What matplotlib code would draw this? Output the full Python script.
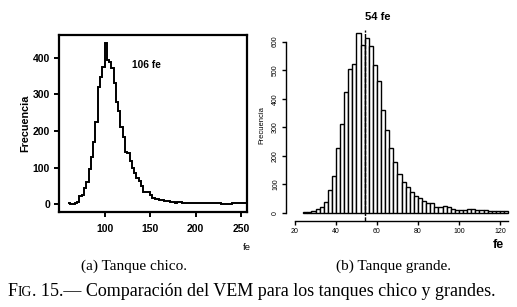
import numpy as np
import matplotlib
matplotlib.use('Agg')
import matplotlib.pyplot as plt

# data
# (a) small tank: step curve, bin width 2.5 fe starting at 60
a_start = 60.0
a_width = 2.5
a_counts = [2, 1, 1, 2, 6, 23, 25, 43, 61, 95,
            130, 171, 224, 320, 349, 376, 440, 395, 388, 372,
            331, 280, 255, 212, 184, 143, 139, 118, 100, 84,
            72, 62, 48, 34, 32, 34, 25, 16, 13, 14,
            11, 10, 9, 9, 8, 6, 5, 4, 6, 5,
            3, 3, 2, 3, 2, 2, 2, 2, 2, 2,
            2, 2, 2, 2, 2, 2, 2, 0, 0, 0,
            0, 1, 3, 4, 3, 2, 2, 2, 2]
a_label = 106

# (b) big tank: histogram, bin width 2 fe starting at 24
b_start = 24
b_width = 2
b_counts = [2, 2, 5, 14, 21, 37, 80, 129, 228, 311,
            425, 503, 523, 629, 588, 612, 586, 518, 462, 359,
            290, 226, 177, 136, 109, 91, 74, 60, 53, 42,
            35, 35, 19, 19, 23, 19, 13, 9, 8, 8,
            12, 12, 8, 9, 11, 7, 5, 7, 7, 7]
b_label = 54

W, H = 517, 307
fig = plt.figure(figsize=(W / 100, H / 100), dpi=100)
sans = 'Liberation Sans'
serif = 'Liberation Serif'


def box(x0, y0, x1, y1):
    return [x0 / W, 1 - y1 / H, (x1 - x0) / W, (y1 - y0) / H]


# ---- left panel
ax1 = fig.add_axes(box(59, 34.7, 247.3, 212.3))
edges_a = a_start + a_width * np.arange(len(a_counts) + 1)
ax1.stairs(a_counts, edges_a, baseline=None, color='black', lw=1.4)
ax1.set_xlim(50, 256.9)
ax1.set_ylim(-22.7, 463.8)
ax1.set_xticks([100, 150, 200, 250])
ax1.set_yticks([0, 100, 200, 300, 400])
for s in ax1.spines.values():
    s.set_linewidth(1.6)
ax1.tick_params(direction='out', length=3.5, width=1.4, pad=3)
ax1.tick_params(axis='x', pad=5)
for lab in ax1.get_xticklabels() + ax1.get_yticklabels():
    lab.set_fontfamily(sans)
    lab.set_fontweight('bold')
    lab.set_fontsize(7.5)
ax1.set_ylabel('Frecuencia', fontfamily=sans, fontweight='bold', fontsize=7.8, labelpad=2)
ax1.text(132 / W, 1 - 65 / H, f'{a_label} fe', transform=fig.transFigure,
         fontfamily=sans, fontweight='bold', fontsize=7.3, va='center', ha='left')
fig.text(247 / W, 1 - 247 / H, 'fe', fontfamily=sans, fontsize=6.8, ha='center', va='center')

# ---- right panel
ax2 = fig.add_axes(box(286, 30, 512, 221))
edges_b = b_start + b_width * np.arange(len(b_counts))
ax2.bar(edges_b, b_counts, width=b_width, align='edge', color='white',
        edgecolor='black', lw=1.0)
ax2.axvline(b_label, color='black', lw=1.0, ls=(0, (3, 1)))
ax2.set_xlim(15.6, 125.9)
ax2.set_ylim(-29.1, 641)
ax2.spines['top'].set_visible(False)
ax2.spines['right'].set_visible(False)
ax2.spines['bottom'].set_bounds(20, 124)
ax2.spines['left'].set_bounds(0, 600)
for s in ['left', 'bottom']:
    ax2.spines[s].set_linewidth(1.0)
ax2.set_xticks([20, 40, 60, 80, 100, 120])
ax2.set_yticks([0, 100, 200, 300, 400, 500, 600])
ax2.tick_params(direction='out', length=3, width=1.0, labelsize=5, pad=2)
ax2.tick_params(axis='y', labelrotation=90)
for lab in ax2.get_xticklabels() + ax2.get_yticklabels():
    lab.set_fontfamily(sans)
for lab in ax2.get_yticklabels():
    lab.set_va('center')
ax2.set_ylabel('Frecuencia', fontfamily=sans, fontsize=5.5, labelpad=5)
fig.text(378 / W, 1 - 17 / H, f'{b_label} fe', fontfamily=sans, fontweight='bold',
         fontsize=8, ha='center', va='center')
fig.text(498 / W, 1 - 245 / H, 'fe', fontfamily=sans, fontweight='bold',
         fontsize=9, ha='center', va='center')

# ---- captions
fig.text(134 / W, 1 - 266.5 / H, '(a) Tanque chico.', fontfamily=serif, fontsize=11,
         ha='center', va='center')
fig.text(394 / W, 1 - 266.5 / H, '(b) Tanque grande.', fontfamily=serif, fontsize=11,
         ha='center', va='center')

renderer = fig.canvas.get_renderer()
x = 8.0
yb = 1 - 296.5 / H
for piece, size in [('F', 13), ('IG', 9.8), ('. 15.\u2014 Comparación del VEM para los tanques chico y grandes.', 13)]:
    t = fig.text(x / W, yb, piece, fontfamily=serif, fontsize=size, ha='left', va='baseline')
    x = t.get_window_extent(renderer).x1

fig.savefig('out.png', dpi=100)
